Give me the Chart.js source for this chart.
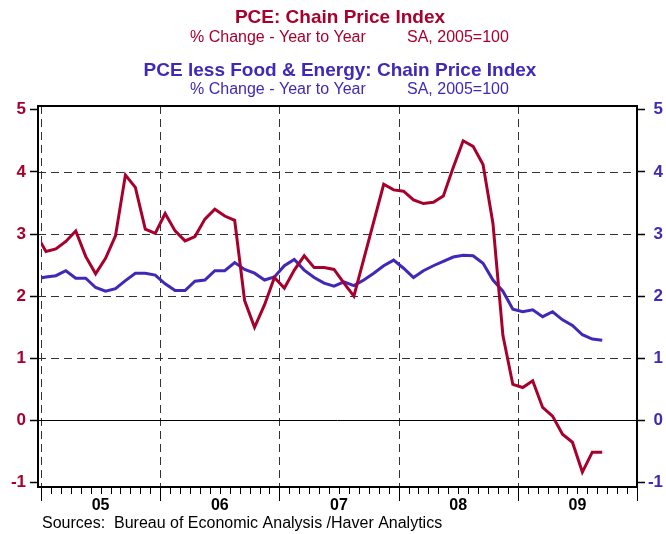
<!DOCTYPE html>
<html><head><meta charset="utf-8">
<script src="https://cdn.jsdelivr.net/npm/chart.js@4.4.0/dist/chart.umd.min.js"></script>
<style>html,body{margin:0;padding:0;background:#fff;}#wrap{width:666px;height:534px;position:relative;}</style>
</head><body><div id="wrap"><canvas id="c"></canvas></div>
<script>
// Monthly, Dec 2004 .. Sep 2009 (first point only partly visible)
const startMonth = 'Dec 2004';
const pceHeadline = [3.00,
  2.72, 2.76, 2.88, 3.05, 2.64, 2.36, 2.61, 2.97, 3.95, 3.75, 3.08, 3.01,
  3.33, 3.05, 2.89, 2.96, 3.24, 3.40, 3.29, 3.22, 1.93, 1.50, 1.86, 2.30,
  2.13, 2.42, 2.65, 2.46, 2.46, 2.43, 2.21, 2.00, 2.60, 3.20, 3.80, 3.71,
  3.69, 3.55, 3.49, 3.51, 3.61, 4.07, 4.50, 4.41, 4.12, 3.17, 1.37, 0.58,
  0.53, 0.64, 0.21, 0.07, -0.22, -0.35, -0.83, -0.51, -0.51];
const pceCore = [2.28,
  2.31, 2.33, 2.41, 2.29, 2.29, 2.14, 2.08, 2.12, 2.25, 2.37, 2.37, 2.34,
  2.20, 2.09, 2.09, 2.24, 2.26, 2.41, 2.41, 2.54, 2.43, 2.37, 2.26, 2.31,
  2.49, 2.59, 2.42, 2.30, 2.21, 2.16, 2.23, 2.17, 2.26, 2.37, 2.49, 2.58,
  2.45, 2.30, 2.41, 2.49, 2.56, 2.63, 2.66, 2.65, 2.53, 2.26, 2.08, 1.79,
  1.75, 1.78, 1.67, 1.75, 1.62, 1.53, 1.38, 1.31, 1.29];
const yearLabels = ['05', '06', '07', '08', '09'];
const yTickValues = [-1, 0, 1, 2, 3, 4, 5];
const gridValues = [1, 2, 3, 4];
const titleRed = 'PCE: Chain Price Index';
const titleBlue = 'PCE less Food & Energy: Chain Price Index';
const subLeft = '% Change - Year to Year';
const subRight = 'SA, 2005=100';
const sourceText = 'Sources:  Bureau of Economic Analysis /Haver Analytics';

const RED = '#A8002C';
const BLUE = '#4028B8';
const FONT = '"Liberation Sans", Arial, Helvetica, sans-serif';

// x: months since Jan 2005 (index 0 = Dec 2004 centered at -0.5)
const toPts = arr => arr.map((v, i) => ({x: i - 0.5, y: v}));

const decor = {
  id: 'decor',
  beforeDatasetsDraw(chart) {
    const {ctx, chartArea: a, scales} = chart;
    const ys = scales.y, xs = scales.x;
    ctx.save();
    ctx.strokeStyle = '#333';
    ctx.lineWidth = 1;
    ctx.setLineDash([8, 5]);
    gridValues.forEach(v => {
      const y = Math.round(ys.getPixelForValue(v)) + 0.5;
      ctx.beginPath(); ctx.moveTo(a.left, y); ctx.lineTo(a.right, y); ctx.stroke();
    });
    for (let m = 0; m < 60; m += 12) {
      const x = Math.round(xs.getPixelForValue(m)) + 0.5;
      ctx.beginPath(); ctx.moveTo(x, a.top); ctx.lineTo(x, a.bottom); ctx.stroke();
    }
    ctx.setLineDash([]);
    ctx.strokeStyle = '#000';
    const y0 = Math.round(ys.getPixelForValue(0)) + 0.5;
    ctx.beginPath(); ctx.moveTo(a.left, y0); ctx.lineTo(a.right, y0); ctx.stroke();
    ctx.restore();
  },
  afterDraw(chart) {
    const {ctx, chartArea: a, scales} = chart;
    const xs = scales.x;
    ctx.save();
    // frame
    ctx.strokeStyle = '#000';
    ctx.lineWidth = 2;
    ctx.strokeRect(a.left, a.top, a.right - a.left, a.bottom - a.top);
    // x ticks
    ctx.lineWidth = 1;
    for (let m = 0; m <= 60; m++) {
      const x = Math.round(xs.getPixelForValue(m)) + 0.5;
      const len = (m % 12 === 0) ? 14 : 7;
      ctx.beginPath(); ctx.moveTo(x, a.bottom); ctx.lineTo(x, a.bottom + len); ctx.stroke();
    }
    // header
    ctx.textBaseline = 'middle';
    ctx.textAlign = 'center';
    ctx.fillStyle = RED;
    ctx.font = 'bold 19px ' + FONT;
    ctx.fillText(titleRed, 340, 18);
    ctx.textAlign = 'left';
    ctx.font = '16px ' + FONT;
    ctx.fillText(subLeft, 190, 38);
    ctx.fillText(subRight, 407, 38);
    ctx.fillStyle = BLUE;
    ctx.textAlign = 'center';
    ctx.font = 'bold 19px ' + FONT;
    ctx.fillText(titleBlue, 340, 71);
    ctx.textAlign = 'left';
    ctx.font = '16px ' + FONT;
    ctx.fillText(subLeft, 190, 90);
    ctx.fillText(subRight, 407, 90);
    // source
    ctx.fillStyle = '#000';
    ctx.font = '16px ' + FONT;
    ctx.fillText(sourceText, 42, 524);
    ctx.restore();
  }
};

const setTicks = s => { s.ticks = yTickValues.map(v => ({value: v})); };

new Chart(document.getElementById('c'), {
  type: 'line',
  data: {
    datasets: [
      {label: 'PCE', data: toPts(pceHeadline), borderColor: RED, borderWidth: 3, pointRadius: 0, tension: 0, yAxisID: 'y', clip: {left: -3, top: 0, right: 0, bottom: 0}},
      {label: 'PCE core', data: toPts(pceCore), borderColor: BLUE, borderWidth: 3, pointRadius: 0, tension: 0, yAxisID: 'y', clip: {left: -3, top: 0, right: 0, bottom: 0}}
    ]
  },
  options: {
    responsive: true,
    maintainAspectRatio: false,
    animation: false,
    events: [],
    layout: {padding: {top: 106, left: 0, right: 3, bottom: 0}},
    plugins: {legend: {display: false}, tooltip: {enabled: false}, title: {display: false}},
    scales: {
      x: {
        type: 'linear', min: -0.3, max: 60,
        grid: {display: false},
        border: {display: false},
        afterBuildTicks: s => { s.ticks = [6, 18, 30, 42, 54].map(v => ({value: v})); },
        afterFit: s => { s.height = 47; },
        ticks: {
          autoSkip: false, maxRotation: 0, padding: 1, color: '#000',
          font: {family: FONT, size: 16, weight: 'bold'},
          callback: (v) => yearLabels[Math.round((v - 6) / 12)]
        }
      },
      y: {
        position: 'left', min: -1.07, max: 5.06,
        afterBuildTicks: setTicks,
        afterFit: s => { s.width = 38; },
        grid: {drawOnChartArea: false, drawTicks: true, tickLength: 8, tickColor: '#000', tickWidth: 1.5},
        border: {display: false},
        ticks: {padding: 4, color: RED, font: {family: FONT, size: 17, weight: 'bold'}}
      },
      y2: {
        position: 'right', min: -1.07, max: 5.06,
        afterBuildTicks: setTicks,
        afterFit: s => { s.width = 26; },
        grid: {drawOnChartArea: false, drawTicks: true, tickLength: 8, tickColor: '#000', tickWidth: 1.5},
        border: {display: false},
        ticks: {padding: 5, crossAlign: 'far', color: BLUE, font: {family: FONT, size: 17, weight: 'bold'}}
      }
    }
  },
  plugins: [decor]
});
</script>
</body></html>
